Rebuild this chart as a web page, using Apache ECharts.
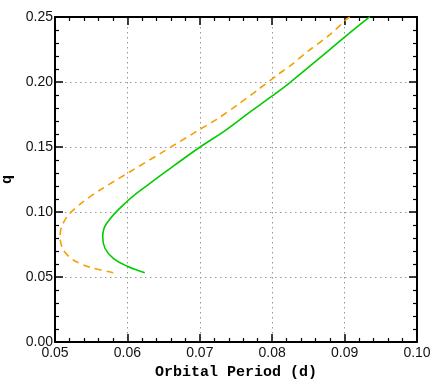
<!DOCTYPE html>
<html>
<head>
<meta charset="utf-8">
<script src="https://cdn.jsdelivr.net/npm/echarts@6/dist/echarts.min.js"></script>
<style>html,body{margin:0;padding:0;background:#fff;}#c{width:433px;height:380px;}</style>
</head>
<body>
<div id="c"></div>
<script>
const xTicks = [0.05, 0.06, 0.07, 0.08, 0.09, 0.10];
const yTicks = [0.00, 0.05, 0.10, 0.15, 0.20, 0.25];
const greenPeriod = [0.0624, 0.0599, 0.05805, 0.0569, 0.05659, 0.05714, 0.0599, 0.06312, 0.06657, 0.0700, 0.0735, 0.0770, 0.0800, 0.0825, 0.0862, 0.0900, 0.0935];
const greenQ      = [0.0533, 0.0585, 0.0644, 0.0721, 0.0810, 0.0913, 0.1079, 0.1221, 0.1362, 0.1498, 0.1626, 0.1772, 0.1893, 0.1998, 0.2168, 0.2345, 0.2502];
const orangePeriod = [0.05805, 0.05483, 0.05253, 0.05115, 0.05069, 0.05092, 0.05184, 0.0539, 0.05622, 0.06036, 0.06496, 0.06934, 0.07233, 0.07532, 0.07808, 0.08084, 0.0825, 0.08503, 0.0878, 0.09033, 0.0907];
const orangeQ      = [0.0533, 0.0575, 0.0631, 0.0708, 0.0810, 0.0887, 0.0977, 0.1079, 0.1169, 0.1310, 0.1464, 0.1613, 0.1713, 0.1828, 0.1943, 0.2059, 0.2126, 0.2241, 0.2356, 0.2485, 0.2500];

const green = greenPeriod.map((x, i) => [x, greenQ[i]]);
const orange = orangePeriod.map((x, i) => [x, orangeQ[i]]);

const chart = echarts.init(document.getElementById('c'), null, {renderer: 'canvas'});
const tickFont = {fontFamily: 'Liberation Sans, Arial, sans-serif', fontSize: 14, color: '#111'};
const axisLine = {show: true, onZero: false, lineStyle: {color: '#000', width: 2}};
const axisTick = {show: true, inside: true, length: 8, lineStyle: {color: '#000', width: 1.5}};
const minorTick = {show: true, splitNumber: 5, length: 4, lineStyle: {color: '#000', width: 1.2}};
const split = {show: true, lineStyle: {color: '#999', type: [1.5, 3.5], width: 1}};
const titleFont = {fontFamily: 'Liberation Mono, Courier New, monospace', fontWeight: 'bold', fontSize: 15, color: '#000'};

chart.setOption({
  animation: false,
  grid: {left: 55, right: 16, top: 17, bottom: 38, containLabel: false, outerBoundsMode: 'none'},
  xAxis: [{
    type: 'value', min: xTicks[0], max: xTicks[xTicks.length - 1], interval: 0.01,
    position: 'bottom',
    name: 'Orbital Period (d)', nameLocation: 'middle', nameGap: 21,
    nameTextStyle: titleFont,
    axisLine: axisLine, axisTick: axisTick, minorTick: minorTick, splitLine: split,
    axisLabel: Object.assign({margin: 4, formatter: v => v.toFixed(2)}, tickFont)
  }, {
    type: 'value', min: xTicks[0], max: xTicks[xTicks.length - 1], interval: 0.01,
    position: 'top',
    axisLine: axisLine, axisTick: axisTick, minorTick: minorTick, splitLine: {show: false},
    axisLabel: {show: false}
  }],
  yAxis: [{
    type: 'value', min: yTicks[0], max: yTicks[yTicks.length - 1], interval: 0.05,
    position: 'left',
    name: 'q', nameLocation: 'middle', nameGap: 32, nameRotate: 90,
    nameTextStyle: titleFont,
    axisLine: axisLine, axisTick: axisTick, minorTick: minorTick, splitLine: split,
    axisLabel: Object.assign({margin: 2, formatter: v => v.toFixed(2)}, tickFont)
  }, {
    type: 'value', min: yTicks[0], max: yTicks[yTicks.length - 1], interval: 0.05,
    position: 'right',
    axisLine: axisLine, axisTick: axisTick, minorTick: minorTick, splitLine: {show: false},
    axisLabel: {show: false}
  }],
  series: [{
    type: 'line', data: orange, showSymbol: false, smooth: 0.3,
    xAxisIndex: 0, yAxisIndex: 0,
    lineStyle: {color: '#f5a000', width: 1.6, type: [7, 5]}
  }, {
    type: 'line', data: green, showSymbol: false, smooth: 0.4,
    xAxisIndex: 0, yAxisIndex: 0,
    lineStyle: {color: '#00cc00', width: 1.6}
  }]
});
</script>
</body>
</html>
